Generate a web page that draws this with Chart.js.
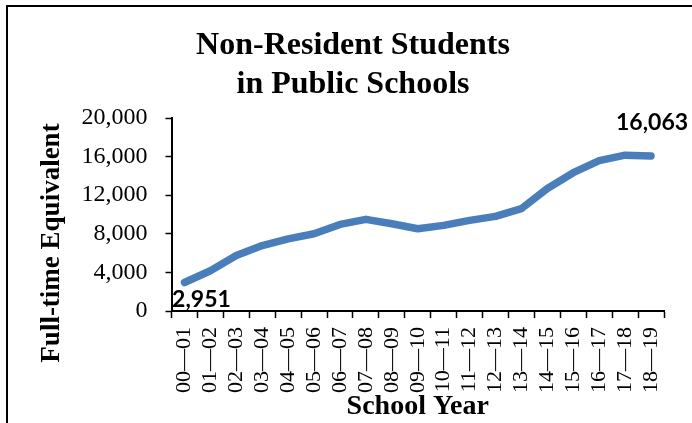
<!DOCTYPE html>
<html>
<head>
<meta charset="utf-8">
<script src="https://cdn.jsdelivr.net/npm/chart.js@4.4.1/dist/chart.umd.min.js"></script>
<style>
  body { margin: 0; background: #fff; }
  #wrap { position: relative; width: 692px; height: 423px; }
</style>
</head>
<body>
<div id="wrap"><canvas id="fte-chart" width="692" height="423"></canvas></div>
<script>
// school years (x axis)
let years = ['00—01', '01—02', '02—03', '03—04', '04—05', '05—06', '06—07', '07—08', '08—09', '09—10',
  '10—11', '11—12', '12—13', '13—14', '14—15', '15—16', '16—17', '17—18', '18—19'];
// full-time equivalent non-resident students
let fte = [2951, 4170, 5740, 6780, 7480, 8000, 8970, 9500, 9040, 8520,
  8870, 9390, 9810, 10610, 12700, 14330, 15580, 16150, 16063];
let yTicks = [0, 4000, 8000, 12000, 16000, 20000];
let titleLines = ['Non-Resident Students', 'in Public Schools'];

let serif = '"Liberation Serif", "Times New Roman", serif';

// frame, chart title, y axis title and the two end labels
let extras = {
  id: 'extras',
  afterDraw: function (chart) {
    let ctx = chart.ctx;
    let area = chart.chartArea;
    ctx.save();
    ctx.fillStyle = '#000';
    ctx.fillRect(6, 5, 2, 418);
    ctx.fillRect(6, 5, 686, 2);

    ctx.font = 'bold 32px ' + serif;
    ctx.textAlign = 'center';
    ctx.textBaseline = 'alphabetic';
    titleLines.forEach(function (t, i) {
      ctx.fillText(t, 353, 54 + i * 39);
    });

    ctx.translate(area.left - 119, area.bottom - 68);
    ctx.rotate(-Math.PI / 2);
    ctx.font = 'bold 27px ' + serif;
    ctx.textBaseline = 'middle';
    ctx.fillText('Full-time Equivalent', 0, 0);
    ctx.restore();

    let pts = chart.getDatasetMeta(0).data;
    let first = pts[0];
    let last = pts[pts.length - 1];
    ctx.save();
    ctx.fillStyle = '#000';
    ctx.font = 'bold 23px Lato, "Liberation Sans", sans-serif';
    ctx.textAlign = 'center';
    ctx.textBaseline = 'middle';
    ctx.fillText(fte[0].toLocaleString('en-US'), first.x + 17, first.y + 17);
    ctx.fillText(fte[fte.length - 1].toLocaleString('en-US'), last.x + 1, last.y - 33);
    ctx.restore();
  }
};

new Chart(document.getElementById('fte-chart'), {
  type: 'line',
  data: {
    labels: years,
    datasets: [{
      label: 'Full-time Equivalent',
      data: fte,
      borderColor: '#4a7ebb',
      borderWidth: 7.5,
      borderCapStyle: 'round',
      borderJoinStyle: 'round',
      pointRadius: 0,
      tension: 0,
      fill: false
    }]
  },
  plugins: [extras],
  options: {
    responsive: false,
    animation: false,
    locale: 'en-US',
    layout: { padding: { left: 0, right: 28, top: 118, bottom: 0 } },
    plugins: {
      legend: { display: false },
      tooltip: { enabled: false },
      title: { display: false }
    },
    scales: {
      x: {
        offset: true,
        afterFit: function (scale) { scale.height = 112; },
        grid: {
          offset: true,
          drawOnChartArea: false,
          drawTicks: true,
          tickLength: 7,
          tickColor: '#000',
          tickWidth: 1.5
        },
        border: { display: true, color: '#000', width: 2 },
        ticks: {
          autoSkip: false,
          maxRotation: 90,
          minRotation: 90,
          padding: 9,
          color: '#000',
          font: { family: serif, size: 22 }
        },
        title: {
          display: true,
          text: 'School Year',
          color: '#000',
          font: { family: serif, size: 28, weight: 'bold', lineHeight: 1.2 },
          padding: { top: 0, bottom: -1 }
        }
      },
      y: {
        min: yTicks[0],
        max: yTicks[yTicks.length - 1],
        afterFit: function (scale) { scale.width = 171.5; },
        afterBuildTicks: function (scale) {
          scale.ticks = yTicks.map(function (v) { return { value: v }; });
        },
        grid: {
          drawOnChartArea: false,
          drawTicks: true,
          tickLength: 6,
          tickColor: '#000',
          tickWidth: 1.5
        },
        border: { display: true, color: '#000', width: 2 },
        ticks: {
          padding: 18,
          color: '#000',
          font: { family: serif, size: 24 },
          callback: function (v) { return v.toLocaleString('en-US'); }
        }
      }
    }
  }
});
</script>
</body>
</html>
